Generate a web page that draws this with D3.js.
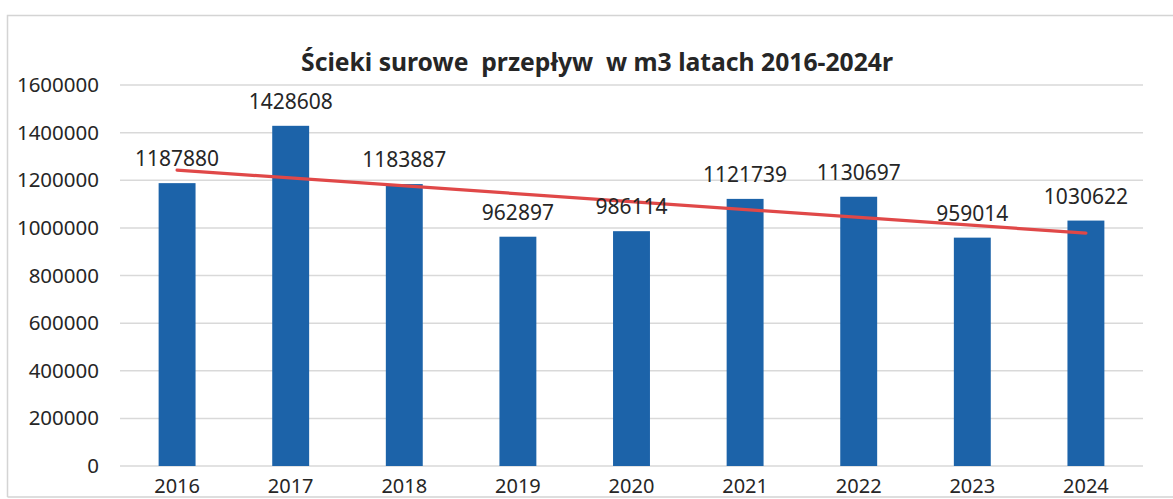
<!DOCTYPE html>
<html>
<head>
<meta charset="utf-8">
<script src="https://cdn.jsdelivr.net/npm/d3@7"></script>
<style>
  html, body { margin: 0; padding: 0; background: #fff; }
  svg { display: block; }
  text { font-family: "Noto Sans", "Open Sans", sans-serif; fill: #262626; }
</style>
</head>
<body>
<svg id="chart" width="1173" height="499"></svg>
<script>
// data
const years = ["2016", "2017", "2018", "2019", "2020", "2021", "2022", "2023", "2024"];
const flows = [1187880, 1428608, 1183887, 962897, 986114, 1121739, 1130697, 959014, 1030622];
const yTicks = [0, 200000, 400000, 600000, 800000, 1000000, 1200000, 1400000, 1600000];
const title = "Ścieki surowe  przepływ  w m3 latach 2016-2024r";

const width = 1173, height = 499;
const plot = {left: 120, right: 1143, top: 85, bottom: 466};

const svg = d3.select("#chart");

// chart frame (scan cuts it off at the right)
svg.append("path")
    .attr("d", "M7.5,497 V15.5 H1173 M7.5,497 H1173")
    .attr("fill", "none")
    .attr("stroke", "#d4d4d4")
    .attr("stroke-width", 1.5);

const x = d3.scaleBand()
    .domain(years)
    .range([plot.left, plot.right])
    .paddingInner(0.675)
    .paddingOuter(0.34);

const y = d3.scaleLinear()
    .domain([0, 1600000])
    .range([plot.bottom, plot.top]);

// gridlines
svg.append("g")
    .selectAll("line")
    .data(yTicks)
    .join("line")
    .attr("x1", plot.left)
    .attr("x2", plot.right)
    .attr("y1", d => y(d))
    .attr("y2", d => y(d))
    .attr("stroke", "#d9d9d9")
    .attr("stroke-width", 1.5);

// y axis labels
const yAxis = svg.append("g")
    .attr("transform", "translate(" + (plot.left - 21) + ",0)")
    .call(d3.axisLeft(y).tickValues(yTicks).tickFormat(d3.format("d")).tickSize(0).tickPadding(0));
yAxis.select(".domain").remove();
yAxis.selectAll("text")
    .style("font-family", '"Noto Sans", sans-serif')
    .style("font-size", "20.5px")
    .attr("fill", "#2e2e2e");

// bars
svg.append("g")
    .selectAll("rect")
    .data(flows)
    .join("rect")
    .attr("x", (d, i) => x(years[i]))
    .attr("width", x.bandwidth())
    .attr("y", d => y(d))
    .attr("height", d => y(0) - y(d))
    .attr("fill", "#1c63a9");

// linear trend line (least squares over the series)
const idx = flows.map((d, i) => i);
const mx = d3.mean(idx), my = d3.mean(flows);
const slope = d3.sum(idx, i => (i - mx) * (flows[i] - my)) / d3.sum(idx, i => (i - mx) * (i - mx));
const trend = i => my + slope * (i - mx);
const cx = i => x(years[i]) + x.bandwidth() / 2;

svg.append("line")
    .attr("x1", cx(0))
    .attr("y1", y(trend(0)))
    .attr("x2", cx(flows.length - 1))
    .attr("y2", y(trend(flows.length - 1)))
    .attr("stroke", "#e04848")
    .attr("stroke-width", 3.2)
    .attr("stroke-linecap", "round");

// data labels
svg.append("g")
    .selectAll("text")
    .data(flows)
    .join("text")
    .attr("x", (d, i) => cx(i))
    .attr("y", d => y(d) - 17)
    .attr("text-anchor", "middle")
    .style("font-size", "21px")
    .attr("fill", "#222")
    .text(d => d);

// x labels, kept just inside the bottom edge of the frame
svg.append("g")
    .selectAll("text")
    .data(years)
    .join("text")
    .attr("x", (d, i) => cx(i))
    .attr("y", 493)
    .attr("text-anchor", "middle")
    .style("font-size", "20px")
    .attr("fill", "#2e2e2e")
    .text(d => d);

// title, fitted to the width it takes in the picture
const t = svg.append("text")
    .attr("x", 597)
    .attr("y", 71)
    .attr("text-anchor", "middle")
    .attr("xml:space", "preserve")
    .style("white-space", "pre")
    .style("font-size", "26px")
    .style("font-weight", "bold")
    .attr("fill", "#262626")
    .text(title);
const len = t.node().getComputedTextLength();
t.style("font-size", (26 * 593 / len).toFixed(1) + "px");
</script>
</body>
</html>
